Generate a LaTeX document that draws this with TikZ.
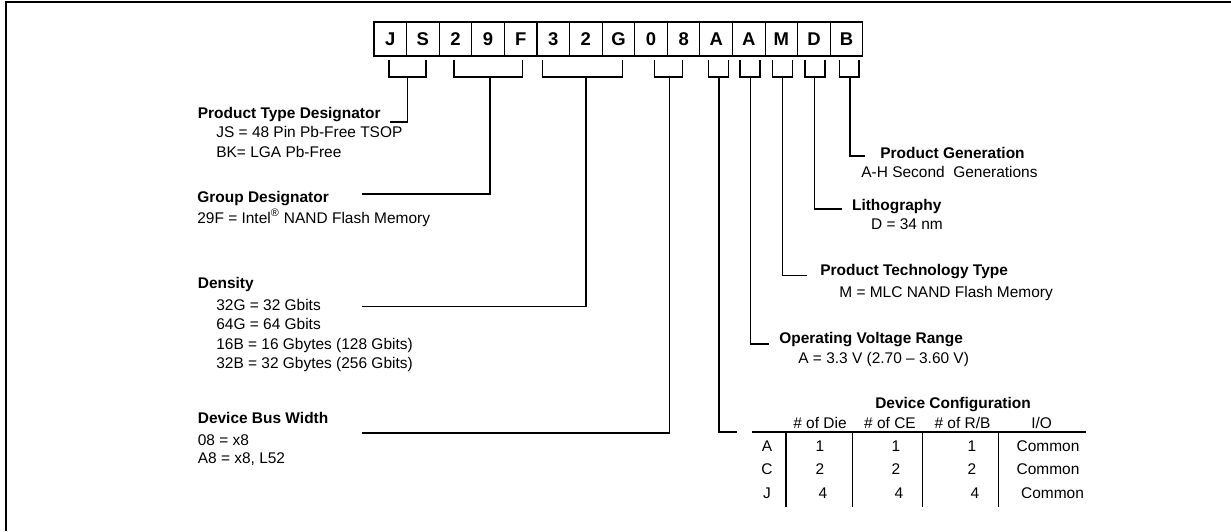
\documentclass[tikz,border=0pt]{standalone}
\usepackage{fontspec}
\setmainfont{Liberation Sans}
\usetikzlibrary{positioning}

\begin{document}
\begin{tikzpicture}[
            x=0.02cm, y=-0.02cm,
            every node/.style={inner sep=0pt, font=\fontsize{8.8}{10.5}\selectfont},
            letterbox/.style={draw, line width=0.6pt, outer sep=0pt, minimum width=0.652cm, minimum height=0.68cm, font=\fontsize{10.5}{12}\selectfont\bfseries},
            title/.style={anchor=base west, font=\fontsize{8.8}{10.5}\selectfont\bfseries},
            entry/.style={anchor=base west},
            cell/.style={anchor=base},
            link/.style={line width=0.6pt}
        ]
            \useasboundingbox (0,0) rectangle (1231,531);
            % frame
            \draw[line width=1.2pt] (6,531) -- (6,2) -- (1231,2);

            % part number
            \node[letterbox] (c1) at (390.3,39) {J};
            \foreach \ch [count=\i from 2] in {S,2,9,F,3,2,G,0,8,A,A,M,D,B} {
                \pgfmathtruncatemacro\j{\i-1}
                \node[letterbox, right=0pt of c\j] (c\i) {\ch};
            }

            % brackets under the fields
            \foreach \l/\r/\s/\n in {389/426/407.7/1, 454/522.7/490/2, 542.3/622.3/586/3, 654.3/682.3/669.3/4,
                    708.3/728.3/719/5, 740/760/750.7/6, 772.3/792.3/782.7/7, 805/825/814.3/8, 839.3/859/850/9} {
                \draw[link] (\l,60) |- (\r,77) -- (\r,60);
                \coordinate (s\n) at (\s,77);
            }

            % left side
            \node[title] (prodtype) at (197.5,118) {Product Type Designator};
            \node[entry] (prodtype1) at (216,137) {JS = 48 Pin Pb-Free TSOP};
            \node[entry] (prodtype2) at (216,157) {BK= LGA Pb-Free};

            \node[title] (group) at (197,202) {Group Designator};
            \node[entry] (group1) at (197,223) {29F = Intel\textsuperscript{®} NAND Flash Memory};

            \node[title] (density) at (197.5,288) {Density};
            \node[entry] (density1) at (216,310) {32G = 32 Gbits};
            \node[entry] (density2) at (216,329) {64G = 64 Gbits};
            \node[entry] (density3) at (216,349) {16B = 16 Gbytes (128 Gbits)};
            \node[entry] (density4) at (216,368) {32B = 32 Gbytes (256 Gbits)};

            \node[title] (buswidth) at (197.5,423) {Device Bus Width};
            \node[entry] (buswidth1) at (197.5,445) {08 = x8};
            \node[entry] (buswidth2) at (197.5,463) {A8 = x8, L52};

            % right side
            \node[title] (prodgen) at (880,158) {Product Generation};
            \node[entry] (prodgen1) at (861,177) {A-H Second \ Generations};

            \node[title] (litho) at (851.7,210) {Lithography};
            \node[entry] (litho1) at (870.7,229) {D = 34 nm};

            \node[title] (techtype) at (820,275.7) {Product Technology Type};
            \node[entry] (techtype1) at (839,297) {M = MLC NAND Flash Memory};

            \node[title] (voltage) at (779,343) {Operating Voltage Range};
            \node[entry] (voltage1) at (798,363) {A = 3.3 V (2.70 – 3.60 V)};

            % device configuration table
            \node[title, anchor=base] (devconf) at (953,408) {Device Configuration};
            \node[cell] (hdie) at (820,428) {\# of Die};
            \node[cell] (hce) at (890,428) {\# of CE};
            \node[cell] (hrb) at (962.5,428) {\# of R/B};
            \node[cell] (hio) at (1041.7,428) {I/O};
            \foreach \r/\y/\v/\dx in {A/451.7/1/0, C/474/2/0, J/498/4/3} {
                \node[cell] (row\r) at (767,\y) {\r};
                \node[cell] (die\r) at (820+\dx,\y) {\v};
                \node[cell] (ce\r) at (896+\dx,\y) {\v};
                \node[cell] (rb\r) at (972+\dx,\y) {\v};
                \node[cell] (io\r) at (1048+1.5*\dx,\y) {Common};
            }
            \draw[link] (751.7,432) -- (1086,432);
            \foreach \x in {786,852.3,922.3,998.3}
                \draw[link] (\x,432) -- (\x,506.7);

            % leader ends
            \coordinate (e1) at (390,122);
            \coordinate (e2) at (362,194);
            \coordinate (e3) at (362,306.7);
            \coordinate (e4) at (362,433);
            \coordinate (e5) at (737,432);
            \coordinate (e6) at (769,344);
            \coordinate (e7) at (807,275.7);
            \coordinate (e8) at (841.7,209);
            \coordinate (e9) at (865,156);
            \foreach \n in {1,...,9}
                \draw[link] (s\n) |- (e\n);
        \end{tikzpicture}
\end{document}
